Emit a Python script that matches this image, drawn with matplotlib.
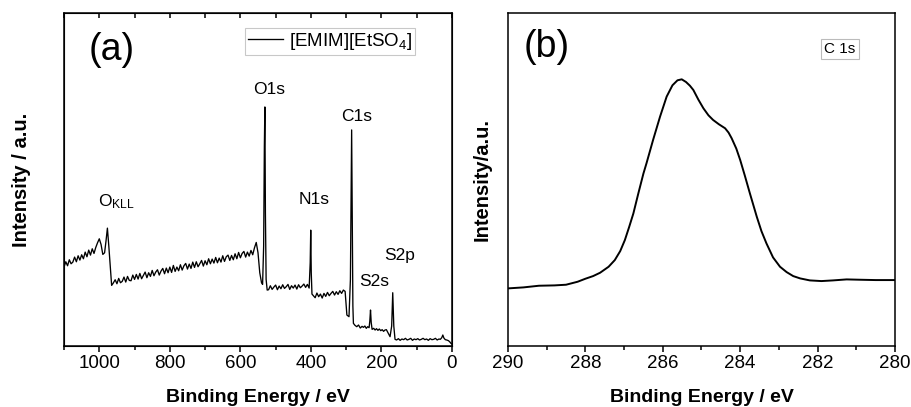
import numpy as np
import matplotlib
matplotlib.use("Agg")
import matplotlib.pyplot as plt
from matplotlib.ticker import MultipleLocator

plt.rcParams['font.family'] = ['Liberation Sans', 'DejaVu Sans']
plt.rcParams['mathtext.fontset'] = 'custom'
plt.rcParams['mathtext.rm'] = 'Liberation Sans'
plt.rcParams['mathtext.it'] = 'Liberation Sans'

# survey spectrum (binding energy in eV, intensity in a.u.)
survey_be = [
    # high BE background + O KLL
    1100, 1095, 1090, 1085, 1080, 1075, 1070, 1065, 1060, 1055, 1050, 1045,
    1040, 1035, 1030, 1025, 1020, 1015, 1010,
    1005, 1000, 995, 990, 985, 981, 977, 973, 969, 965, 961,
    # background up to O1s
    955, 950, 945, 940, 935, 930, 925, 920, 915, 910, 905, 900, 895, 890,
    885, 880, 875, 870, 865, 860, 855, 850, 845, 840, 835, 830, 825, 820,
    815, 810, 805, 800, 795, 790, 785, 780, 775, 770, 765, 760, 755, 750,
    745, 740, 735, 730, 725, 720, 715, 710, 705, 700, 695, 690, 685, 680,
    675, 670, 665, 660, 655, 650, 645, 640, 635, 630, 625, 620, 615, 610,
    605, 600, 595, 590, 585, 580, 575, 570, 565,
    # O1s
    560, 555, 550, 545, 540, 537, 534, 532, 530.5, 529, 527, 524,
    520, 515, 510, 505, 500, 495, 490, 485, 480, 475, 470, 465, 460, 455,
    450, 445, 440, 435, 430, 425, 420, 415, 410, 405,
    # N1s
    402, 400.5, 399, 397,
    393, 388, 383, 378, 373, 368, 363, 358, 353, 348, 343, 338, 333, 328,
    323, 318, 313, 308, 303,
    # C1s
    298, 292, 288, 286, 284.5, 283, 281, 279.5,
    275, 270, 265, 260, 255, 251, 247, 243, 239, 235,
    # S2s
    233, 231, 229, 226.5, 222, 218, 214, 210, 206, 202, 198, 194, 190, 186,
    182, 178.5, 175.6,
    # S2p
    171, 168, 165, 161.5,
    157, 152, 147, 142, 137, 132, 127, 122, 117, 112, 107, 102, 97, 92, 87,
    82, 77, 72, 67, 62, 57, 52, 47, 42, 37, 33, 29, 26, 23, 19, 15, 10, 6,
    3, 0,
]
survey_int = [
    23.7, 25.3, 24.1, 25.9, 24.7, 25.2, 26.7, 25.3, 27.1, 25.8, 27.4, 26.2,
    28.2, 26.8, 28.8, 27.3, 29.2, 27.8, 29.6,
    31.0, 32.2, 30.5, 27.5, 28.0, 31.5, 35.4, 30.0, 24.0, 18.2, 18.8,
    19.9, 18.7, 20.3, 19.0, 19.4, 20.7, 19.2, 20.9, 19.7, 19.6, 21.3, 20.0,
    21.5, 20.1, 21.8, 20.2, 21.2, 22.2, 20.5, 22.0, 20.9, 22.7, 21.1, 22.2,
    22.9, 21.3, 22.5, 23.3, 21.7, 23.4, 22.0, 23.7, 22.1, 24.2, 22.4, 23.7,
    22.6, 24.4, 22.8, 24.1, 24.8, 23.1, 24.6, 23.3, 25.2, 23.6, 25.3, 23.8,
    24.7, 25.7, 24.0, 25.6, 24.4, 26.2, 24.7, 26.1, 24.9, 26.6, 25.0, 26.4,
    25.2, 27.1, 25.4, 26.8, 27.3, 25.7, 27.2, 25.9, 27.7, 26.2, 28.1, 26.5,
    27.8, 28.4, 26.7, 28.2, 27.0, 28.7, 27.4,
    29.5, 31.1, 28.0, 22.0, 19.0, 18.5, 30.0, 60.0, 71.8, 40.0, 20.0, 16.8,
    16.9, 18.1, 17.0, 17.7, 18.3, 16.9, 18.0, 17.2, 18.4, 17.3, 17.8, 18.5,
    17.0, 18.1, 17.4, 18.3, 17.1, 18.4, 17.5, 18.0, 18.6, 17.6, 18.5, 17.4,
    25.0, 34.8, 22.0, 15.6,
    15.1, 14.5, 15.9, 14.8, 15.6, 14.4, 15.8, 14.9, 16.1, 15.1, 15.8, 16.4,
    15.3, 16.3, 15.5, 16.6, 15.8, 16.8, 16.4,
    9.3, 8.8, 20.0, 45.0, 64.9, 40.0, 12.0, 6.8,
    6.2, 5.8, 6.3, 5.4, 5.9, 5.6, 6.0, 5.3, 5.8, 5.5,
    7.5, 10.8, 7.0, 5.0, 5.3, 4.8, 5.2, 4.7, 5.1, 4.6, 4.9, 4.4, 4.8, 4.9,
    4.1, 3.4, 2.8,
    6.0, 16.0, 6.0, 2.0,
    1.8, 2.2, 1.7, 2.1, 1.9, 2.3, 1.8, 2.0, 2.3, 1.7, 2.1, 1.9, 2.2, 1.8,
    2.0, 2.3, 1.9, 2.1, 1.7, 2.2, 1.9, 2.0, 2.3, 1.8, 2.1, 2.0, 2.5, 3.3,
    2.4, 1.9, 1.8, 1.6, 1.2, 0.8, 0.6,
]

# C 1s high resolution spectrum
c1s_be = [
    290.0, 289.6, 289.2, 288.8, 288.5, 288.2, 288.0, 287.8, 287.62, 287.4,
    287.24, 287.1, 286.98, 286.87, 286.76, 286.63, 286.5, 286.42, 286.25,
    286.07, 285.9, 285.75, 285.62, 285.51, 285.4, 285.3, 285.21, 285.08,
    284.95, 284.82, 284.7, 284.55, 284.39, 284.3, 284.22, 284.1, 284.0,
    283.88, 283.75, 283.57, 283.45, 283.32, 283.15, 282.97, 282.8, 282.63,
    282.45, 282.2, 281.9, 281.6, 281.25, 280.9, 280.5, 280.0,
]
c1s_int = [
    17.3, 17.6, 18.1, 18.2, 18.4, 19.3, 20.2, 21.0, 22.0, 23.8,
    25.8, 28.5, 31.8, 35.7, 39.8, 45.9, 51.8, 54.9, 61.9,
    68.9, 74.9, 78.3, 79.8, 80.1, 79.3, 78.2, 76.9, 74.0,
    71.4, 69.3, 67.9, 66.6, 65.4, 64.1, 62.4, 59.3, 55.9,
    51.2, 45.9, 38.8, 34.5, 30.8, 26.6, 23.8, 22.2, 21.0,
    20.3, 19.7, 19.5, 19.7, 20.0, 19.9, 19.8, 19.8,
]

peak_labels = ['O1s', 'N1s', 'C1s', 'S2s', 'S2p']
peak_label_be = [518, 391, 271, 221, 148]
peak_label_y = [76.9, 44.0, 68.8, 19.5, 27.3]

fig = plt.figure(figsize=(9.12, 4.07), dpi=100)
ax1 = fig.add_axes([0.0702, 0.1499, 0.4254, 0.818])
ax2 = fig.add_axes([0.557, 0.1499, 0.4243, 0.818])

for ax in (ax1, ax2):
    ax.set_ylim(0, 100)
    ax.set_yticks([])
    for s in ax.spines.values():
        s.set_linewidth(1.1)
    ax.tick_params(axis='x', which='major', direction='out', length=4.5,
                   width=1.1, labelsize=13.5, pad=2)
    ax.tick_params(axis='x', which='minor', direction='out', length=3,
                   width=1.1)

# (a) survey
ax1.plot(survey_be, survey_int, color='black', lw=0.95,
         label=r'[EMIM][EtSO$_4$]')
ax1.set_xlim(1100, 0)
ax1.xaxis.set_major_locator(MultipleLocator(200))
ax1.xaxis.set_minor_locator(MultipleLocator(100))

# inward ticks along the top edge
ax1t = ax1.twiny()
ax1t.set_xlim(ax1.get_xlim())
ax1t.xaxis.set_major_locator(MultipleLocator(100))
ax1t.tick_params(axis='x', direction='in', length=3.5, width=1.1,
                 labeltop=False)
ax1t.set_yticks([])

for lab, x, y in zip(peak_labels, peak_label_be, peak_label_y):
    ax1.text(x, y, lab, ha='center', va='center', fontsize=12.5)
ax1.text(952, 40.5, r'O$_{\mathregular{KLL}}$', ha='center', va='bottom',
         fontsize=12.5)
ax1.text(964, 89.0, '(a)', ha='center', va='center', fontsize=27)

leg = ax1.legend(loc='upper right', bbox_to_anchor=(0.905, 0.955),
                 fontsize=13.5, frameon=True, fancybox=False,
                 handlelength=1.9, handletextpad=0.3, borderpad=0.15,
                 borderaxespad=0)
leg.get_frame().set_edgecolor('#bbbbbb')
leg.get_frame().set_linewidth(0.8)

ax1.set_xlabel('Binding Energy / eV', fontsize=14, fontweight='bold',
               labelpad=12)
ax1.set_ylabel('Intensity / a.u.', fontsize=14.5, fontweight='bold',
               labelpad=24)

# (b) C 1s
ax2.plot(c1s_be, c1s_int, color='black', lw=1.4)
ax2.set_xlim(290, 280)
ax2.xaxis.set_major_locator(MultipleLocator(2))
ax2.xaxis.set_minor_locator(MultipleLocator(1))
ax2.text(289.0, 89.8, '(b)', ha='center', va='center', fontsize=27)
ax2.text(281.42, 89.2, 'C 1s', ha='center', va='center', fontsize=11,
         bbox=dict(boxstyle='square,pad=0.2', fc='white', ec='#bbbbbb',
                   lw=0.8))
ax2.set_xlabel('Binding Energy / eV', fontsize=14, fontweight='bold',
               labelpad=12)
ax2.set_ylabel('Intensity/a.u.', fontsize=14.5, fontweight='bold',
               labelpad=12)

fig.savefig('out.png', dpi=100)
